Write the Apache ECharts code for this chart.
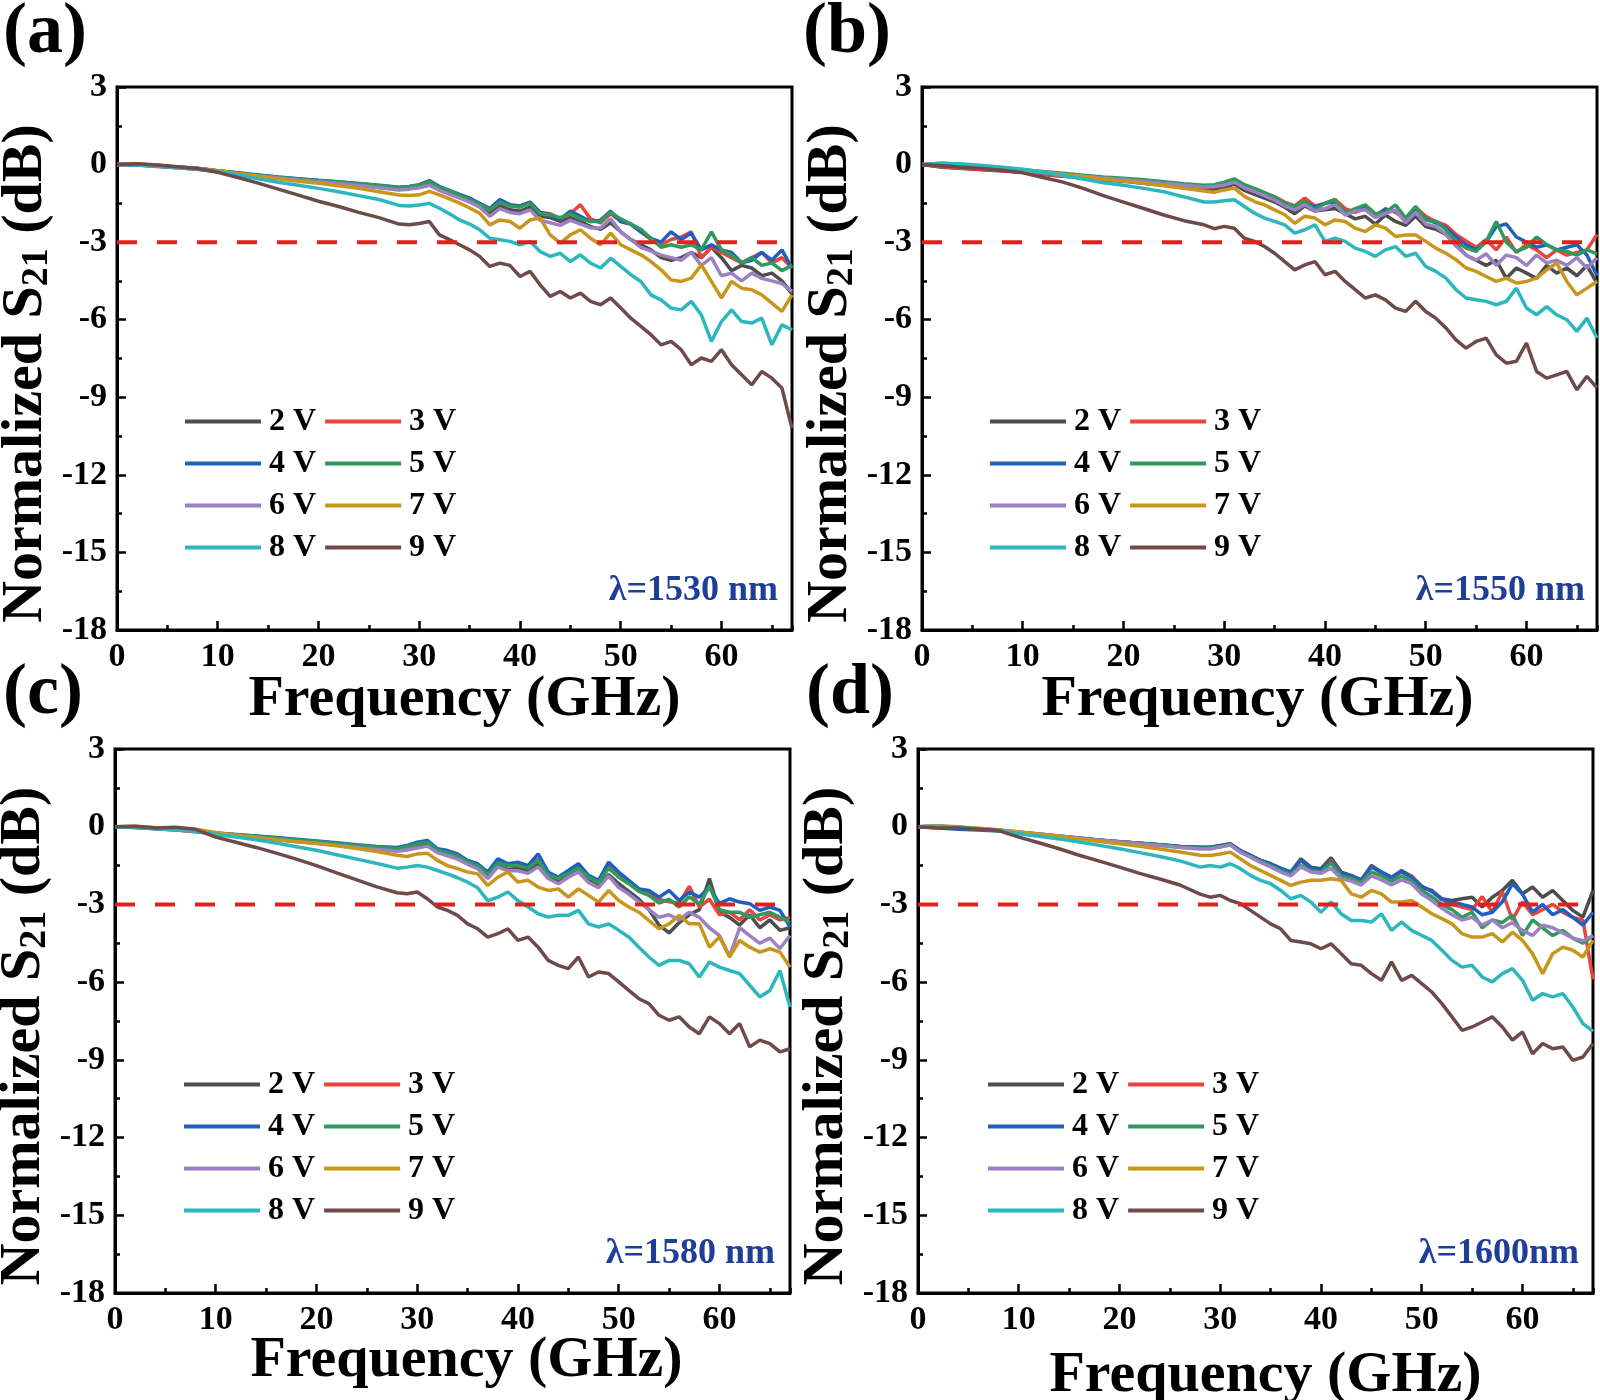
<!DOCTYPE html>
<html><head><meta charset="utf-8">
<script src="https://cdn.jsdelivr.net/npm/echarts@6/dist/echarts.min.js"></script>
<style>html,body{margin:0;padding:0;background:#fff}#chart{width:1600px;height:1400px}</style>
</head><body><div id="chart"></div>
<script>
// ---------------- data ----------------
const FREQ = [0,2,4,6,8,10,12,14,16,18,20,22,24,26,28,29,30,31,32,33,34,35,36,37,38,39,40,41,42,43,44,45,46,47,48,49,50,51,52,53,54,55,56,57,58,59,60,61,62,63,64,65,66,67];
const VOLTAGES = ['2 V','3 V','4 V','5 V','6 V','7 V','8 V','9 V'];
const Y_TICKS = [-18,-15,-12,-9,-6,-3,0,3];
const X_TICKS = [0,10,20,30,40,50,60];
const REF_DB = -3;
const LAMBDAS = ['λ=1530 nm','λ=1550 nm','λ=1580 nm','λ=1600nm'];
const TAGS = ['(a)','(b)','(c)','(d)'];

// (a) 1530 nm
const A_2V = [0,-0.02,-0.07,-0.12,-0.18,-0.27,-0.36,-0.45,-0.53,-0.6,-0.66,-0.72,-0.8,-0.88,-0.96,-0.92,-0.85,-0.72,-0.95,-1.1,-1.25,-1.4,-1.6,-1.9,-1.6,-1.75,-1.8,-1.65,-2.0,-2.05,-2.2,-2.05,-2.2,-2.4,-2.5,-2.25,-2.6,-2.9,-3.1,-3.3,-3.6,-3.7,-3.6,-3.4,-3.6,-3.2,-3.6,-4.1,-3.9,-4.0,-4.3,-4.2,-4.5,-5.0];
const A_3V = [0,0.0,-0.05,-0.1,-0.15,-0.25,-0.34,-0.42,-0.5,-0.57,-0.63,-0.69,-0.76,-0.84,-0.9,-0.88,-0.82,-0.68,-0.9,-1.05,-1.2,-1.3,-1.55,-1.75,-1.45,-1.6,-1.6,-1.5,-1.85,-1.9,-2.1,-1.9,-1.55,-2.1,-2.25,-1.9,-2.2,-2.3,-2.6,-2.9,-3.1,-2.9,-2.8,-2.6,-3.6,-3.2,-3.4,-3.6,-3.8,-3.6,-3.4,-3.8,-3.6,-4.0];
const A_4V = [0,0.01,-0.04,-0.09,-0.14,-0.24,-0.32,-0.4,-0.48,-0.55,-0.61,-0.66,-0.73,-0.8,-0.88,-0.85,-0.78,-0.62,-0.85,-1.0,-1.15,-1.3,-1.5,-1.7,-1.35,-1.55,-1.6,-1.45,-1.85,-1.95,-2.1,-1.8,-2.0,-2.2,-2.15,-1.8,-2.2,-2.3,-2.6,-2.85,-3.0,-2.6,-2.9,-2.65,-3.3,-3.1,-3.3,-3.4,-3.8,-3.7,-3.4,-3.7,-3.3,-4.0];
const A_5V = [0,0.01,-0.04,-0.09,-0.15,-0.24,-0.33,-0.41,-0.49,-0.56,-0.62,-0.67,-0.74,-0.81,-0.89,-0.85,-0.8,-0.65,-0.9,-1.0,-1.2,-1.35,-1.55,-1.75,-1.45,-1.6,-1.65,-1.5,-1.9,-1.95,-2.05,-1.9,-2.1,-2.2,-2.2,-1.85,-2.1,-2.3,-2.5,-2.85,-3.2,-3.1,-3.2,-3.1,-3.3,-2.6,-3.3,-3.5,-3.8,-3.6,-3.9,-3.8,-4.1,-3.9];
const A_6V = [0,-0.02,-0.06,-0.12,-0.17,-0.26,-0.35,-0.44,-0.52,-0.6,-0.66,-0.73,-0.81,-0.9,-0.98,-0.95,-0.9,-0.8,-1.0,-1.15,-1.3,-1.45,-1.65,-2.0,-1.7,-1.85,-1.9,-1.75,-2.15,-2.25,-2.35,-2.15,-2.3,-2.45,-2.45,-2.1,-2.6,-2.9,-3.2,-3.35,-3.5,-3.6,-3.7,-3.4,-3.9,-3.6,-4.3,-4.2,-4.5,-4.2,-4.4,-4.5,-4.6,-4.9];
const A_7V = [0,0.02,-0.03,-0.1,-0.15,-0.25,-0.35,-0.45,-0.55,-0.65,-0.72,-0.82,-0.92,-1.05,-1.18,-1.2,-1.17,-1.04,-1.17,-1.33,-1.49,-1.68,-1.88,-2.33,-2.14,-2.2,-2.46,-2.14,-2.07,-2.72,-3.04,-2.72,-2.52,-2.85,-3.1,-2.65,-3.1,-3.3,-3.49,-3.75,-4.07,-4.46,-4.52,-4.39,-3.88,-4.52,-5.16,-4.52,-4.78,-4.84,-5.04,-5.36,-5.68,-5.04];
const A_8V = [0,-0.02,-0.06,-0.12,-0.18,-0.28,-0.4,-0.55,-0.68,-0.8,-0.92,-1.05,-1.2,-1.35,-1.58,-1.6,-1.56,-1.5,-1.69,-1.9,-2.14,-2.3,-2.52,-2.85,-2.91,-2.97,-3.1,-2.97,-3.36,-3.55,-3.43,-3.75,-3.49,-3.81,-4.0,-3.62,-3.94,-4.26,-4.52,-5.04,-5.23,-5.55,-5.62,-5.29,-5.81,-6.84,-6.07,-5.62,-6.07,-6.13,-5.94,-6.97,-6.2,-6.39];
const A_9V = [0,0.03,-0.02,-0.08,-0.15,-0.3,-0.5,-0.72,-0.95,-1.18,-1.42,-1.62,-1.85,-2.05,-2.3,-2.33,-2.28,-2.2,-2.72,-2.9,-3.1,-3.3,-3.55,-3.94,-3.81,-3.9,-4.33,-4.13,-4.65,-5.1,-4.91,-5.16,-4.97,-5.29,-5.42,-5.16,-5.55,-5.94,-6.26,-6.58,-6.97,-6.84,-7.16,-7.74,-7.48,-7.61,-7.16,-7.74,-8.13,-8.52,-8.0,-8.26,-8.64,-10.2];

// (b) 1550 nm
const B_2V = [0,-0.1,-0.15,-0.2,-0.25,-0.3,-0.38,-0.45,-0.52,-0.6,-0.65,-0.72,-0.8,-0.9,-0.95,-0.95,-0.9,-0.75,-1.0,-1.15,-1.3,-1.45,-1.65,-1.9,-1.6,-1.8,-1.75,-1.7,-1.9,-2.1,-2.0,-2.3,-1.95,-2.2,-2.35,-2.0,-2.4,-2.5,-2.7,-3.1,-3.5,-3.7,-3.9,-3.7,-4.4,-4.0,-4.2,-4.4,-3.9,-4.2,-4.0,-4.3,-3.9,-4.6];
const B_3V = [0,-0.08,-0.14,-0.19,-0.24,-0.3,-0.37,-0.44,-0.5,-0.57,-0.62,-0.68,-0.75,-0.82,-0.88,-0.85,-0.75,-0.6,-0.82,-0.95,-1.1,-1.25,-1.45,-1.6,-1.3,-1.6,-1.5,-1.35,-1.7,-1.85,-1.7,-2.0,-1.7,-1.85,-2.1,-1.65,-2.0,-2.2,-2.35,-2.7,-2.95,-3.2,-2.9,-3.3,-2.8,-3.4,-3.1,-3.3,-3.6,-3.3,-3.5,-3.4,-3.3,-2.7];
const B_4V = [0,-0.03,-0.08,-0.13,-0.18,-0.25,-0.32,-0.39,-0.46,-0.53,-0.59,-0.65,-0.72,-0.79,-0.85,-0.82,-0.72,-0.58,-0.8,-0.95,-1.1,-1.3,-1.5,-1.65,-1.45,-1.65,-1.5,-1.45,-1.85,-1.75,-1.65,-1.95,-1.75,-1.8,-2.1,-1.7,-2.1,-2.25,-2.45,-2.8,-3.1,-3.3,-3.0,-2.4,-2.3,-2.8,-3.0,-3.2,-3.1,-3.3,-3.2,-3.1,-3.5,-4.3];
const B_5V = [0,0.05,0.0,-0.06,-0.12,-0.2,-0.27,-0.34,-0.41,-0.48,-0.53,-0.59,-0.66,-0.74,-0.8,-0.78,-0.68,-0.55,-0.78,-0.92,-1.08,-1.25,-1.5,-1.6,-1.43,-1.75,-1.5,-1.36,-1.88,-1.7,-1.56,-1.9,-1.85,-1.56,-2.07,-1.62,-2.14,-2.2,-2.52,-2.97,-3.23,-3.36,-2.97,-2.2,-3.0,-3.36,-3.2,-2.8,-3.1,-3.3,-3.35,-3.5,-3.3,-3.45];
const B_6V = [0,0.0,-0.05,-0.1,-0.16,-0.23,-0.3,-0.38,-0.45,-0.52,-0.58,-0.65,-0.73,-0.8,-0.87,-0.85,-0.8,-0.68,-0.9,-1.05,-1.2,-1.38,-1.6,-1.75,-1.55,-1.8,-1.7,-1.55,-1.95,-1.8,-1.75,-2.05,-1.9,-1.75,-2.25,-1.85,-2.3,-2.4,-2.7,-3.15,-3.5,-3.7,-3.45,-3.9,-3.5,-3.6,-3.9,-3.5,-3.8,-3.7,-3.9,-3.6,-4.0,-3.6];
const B_7V = [0,0.03,-0.02,-0.08,-0.14,-0.22,-0.3,-0.38,-0.47,-0.56,-0.64,-0.72,-0.82,-0.92,-1.02,-1.07,-0.98,-0.91,-1.23,-1.43,-1.56,-1.75,-1.94,-2.27,-2.0,-2.07,-2.33,-2.14,-2.2,-2.46,-2.59,-2.33,-2.46,-2.78,-2.72,-2.72,-2.97,-3.23,-3.43,-3.68,-4.0,-4.13,-4.33,-4.52,-4.39,-4.58,-4.52,-4.39,-4.07,-3.81,-4.52,-5.04,-4.78,-4.52];
const B_8V = [0,0.05,0.02,-0.04,-0.1,-0.18,-0.3,-0.42,-0.56,-0.7,-0.8,-0.92,-1.05,-1.25,-1.45,-1.45,-1.4,-1.36,-1.62,-1.88,-2.07,-2.2,-2.33,-2.65,-2.52,-2.33,-2.97,-2.85,-2.97,-3.23,-3.36,-3.55,-3.3,-3.17,-3.55,-3.43,-3.94,-4.13,-4.39,-4.84,-5.16,-5.23,-5.29,-5.42,-5.29,-4.78,-5.55,-5.81,-5.49,-5.81,-6.0,-6.45,-5.94,-6.71];
const B_9V = [0,-0.05,-0.1,-0.15,-0.22,-0.32,-0.5,-0.68,-0.92,-1.2,-1.45,-1.7,-1.95,-2.17,-2.33,-2.48,-2.39,-2.46,-2.85,-2.97,-3.17,-3.43,-3.75,-4.07,-3.88,-3.75,-4.26,-4.13,-4.52,-4.84,-5.16,-5.04,-5.23,-5.55,-5.68,-5.29,-5.68,-5.94,-6.32,-6.78,-7.1,-6.84,-6.71,-7.36,-7.68,-7.61,-6.9,-8.0,-8.26,-8.13,-8.0,-8.71,-8.19,-8.64];

// (c) 1580 nm
const C_2V = [0,-0.03,-0.08,-0.13,-0.19,-0.27,-0.34,-0.41,-0.48,-0.56,-0.63,-0.71,-0.79,-0.86,-0.92,-0.88,-0.78,-0.7,-0.98,-1.08,-1.2,-1.42,-1.6,-1.95,-1.5,-1.65,-1.6,-1.7,-1.45,-1.95,-2.1,-1.9,-1.7,-2.05,-2.3,-1.85,-2.2,-2.5,-2.8,-3.2,-3.8,-4.1,-3.7,-3.4,-3.2,-2.0,-3.3,-3.5,-3.8,-3.4,-3.9,-3.6,-4.0,-3.9];
const C_3V = [0,-0.01,-0.06,-0.1,-0.17,-0.25,-0.31,-0.38,-0.45,-0.52,-0.58,-0.66,-0.73,-0.8,-0.86,-0.78,-0.68,-0.58,-0.88,-0.98,-1.12,-1.33,-1.5,-1.8,-1.35,-1.5,-1.45,-1.55,-1.25,-1.8,-1.95,-1.75,-1.5,-1.9,-2.1,-1.5,-1.9,-2.15,-2.45,-2.6,-2.8,-2.9,-2.95,-2.3,-3.1,-2.8,-3.4,-3.3,-3.6,-3.2,-3.6,-3.4,-3.6,-3.5];
const C_4V = [0,-0.02,-0.06,-0.1,-0.16,-0.24,-0.3,-0.36,-0.42,-0.48,-0.55,-0.62,-0.7,-0.76,-0.8,-0.72,-0.6,-0.53,-0.85,-0.92,-1.05,-1.3,-1.43,-1.75,-1.24,-1.43,-1.37,-1.5,-1.05,-1.75,-1.95,-1.69,-1.43,-1.88,-2.07,-1.37,-1.75,-2.07,-2.4,-2.46,-2.72,-2.46,-2.85,-2.52,-2.72,-2.33,-2.97,-2.78,-2.91,-2.97,-3.23,-3.1,-3.23,-3.87];
const C_5V = [0,0.0,-0.05,-0.1,-0.16,-0.25,-0.31,-0.37,-0.44,-0.5,-0.57,-0.64,-0.72,-0.79,-0.84,-0.76,-0.66,-0.6,-0.9,-1.0,-1.12,-1.35,-1.5,-1.85,-1.4,-1.5,-1.5,-1.6,-1.3,-1.85,-2.0,-1.8,-1.6,-1.95,-2.15,-1.6,-1.95,-2.2,-2.5,-2.65,-2.95,-2.8,-3.1,-2.7,-3.0,-2.3,-3.2,-3.3,-3.3,-3.5,-3.4,-3.3,-3.5,-3.7];
const C_6V = [0,-0.02,-0.07,-0.12,-0.18,-0.27,-0.34,-0.41,-0.49,-0.57,-0.64,-0.72,-0.8,-0.88,-0.95,-0.9,-0.82,-0.75,-1.0,-1.12,-1.25,-1.45,-1.62,-2.0,-1.55,-1.7,-1.7,-1.8,-1.55,-2.0,-2.2,-1.95,-1.75,-2.15,-2.35,-1.9,-2.35,-2.6,-2.9,-3.2,-3.5,-3.4,-3.6,-3.3,-3.5,-3.9,-4.2,-5.0,-3.9,-4.2,-4.5,-4.3,-4.7,-4.2];
const C_7V = [0,0.02,-0.03,-0.05,-0.1,-0.22,-0.33,-0.42,-0.5,-0.58,-0.65,-0.74,-0.84,-0.96,-1.1,-1.15,-1.05,-1.02,-1.3,-1.5,-1.62,-1.75,-1.82,-2.27,-1.95,-1.75,-2.14,-2.07,-2.33,-2.46,-2.4,-2.72,-2.4,-2.65,-2.91,-2.46,-2.85,-3.1,-3.3,-3.62,-3.94,-3.75,-3.42,-3.75,-3.75,-4.65,-4.26,-5.03,-4.39,-4.65,-4.84,-4.71,-4.84,-5.42];
const C_8V = [0,-0.03,-0.08,-0.12,-0.18,-0.3,-0.4,-0.5,-0.63,-0.77,-0.91,-1.08,-1.25,-1.42,-1.6,-1.56,-1.5,-1.56,-1.69,-1.82,-1.97,-2.14,-2.36,-2.85,-2.72,-2.52,-2.85,-3.1,-3.36,-3.49,-3.42,-3.42,-3.23,-3.75,-3.87,-3.75,-4.0,-4.26,-4.65,-5.03,-5.35,-5.16,-5.16,-5.29,-5.8,-5.22,-5.42,-5.55,-5.67,-6.12,-6.57,-6.32,-5.55,-6.96];
const C_9V = [0,0.02,-0.05,-0.02,-0.1,-0.4,-0.6,-0.8,-1.02,-1.25,-1.5,-1.78,-2.05,-2.32,-2.55,-2.59,-2.52,-2.78,-3.1,-3.23,-3.42,-3.75,-3.94,-4.26,-4.13,-3.94,-4.39,-4.26,-4.65,-5.16,-5.35,-5.48,-5.03,-5.8,-5.61,-5.67,-5.99,-6.32,-6.64,-6.83,-7.28,-7.47,-7.34,-7.73,-7.99,-7.34,-7.6,-7.99,-7.6,-8.5,-8.24,-8.37,-8.69,-8.57];

// (d) 1600 nm
const D_2V = [0,0.02,-0.03,-0.08,-0.14,-0.21,-0.28,-0.36,-0.44,-0.52,-0.58,-0.64,-0.7,-0.76,-0.79,-0.79,-0.72,-0.66,-0.92,-1.11,-1.3,-1.43,-1.62,-1.75,-1.24,-1.56,-1.62,-1.2,-1.75,-1.88,-2.07,-1.5,-1.75,-1.95,-1.75,-1.95,-2.33,-2.46,-2.78,-2.85,-2.78,-2.72,-3.1,-2.72,-2.46,-2.07,-2.59,-2.33,-2.72,-2.46,-2.85,-3.23,-3.49,-2.46];
const D_3V = [0,0.0,-0.05,-0.1,-0.16,-0.23,-0.3,-0.38,-0.45,-0.52,-0.58,-0.64,-0.7,-0.76,-0.8,-0.8,-0.74,-0.68,-0.95,-1.12,-1.3,-1.45,-1.65,-1.8,-1.3,-1.6,-1.7,-1.3,-1.8,-1.9,-2.05,-1.55,-1.8,-2.0,-1.7,-1.9,-2.3,-2.5,-2.8,-3.0,-3.1,-3.2,-2.7,-3.3,-2.5,-3.6,-2.9,-3.4,-3.2,-3.0,-3.3,-3.5,-3.6,-5.9];
const D_4V = [0,-0.05,-0.1,-0.13,-0.17,-0.24,-0.31,-0.38,-0.45,-0.52,-0.58,-0.64,-0.7,-0.76,-0.8,-0.8,-0.73,-0.67,-0.93,-1.1,-1.3,-1.43,-1.6,-1.75,-1.3,-1.6,-1.65,-1.35,-1.8,-1.9,-2.05,-1.55,-1.75,-1.95,-1.7,-1.95,-2.3,-2.5,-2.8,-2.9,-3.0,-3.1,-3.4,-3.3,-2.9,-2.2,-2.6,-3.3,-3.0,-3.4,-3.2,-3.5,-3.8,-3.3];
const D_5V = [0,0.0,-0.05,-0.1,-0.15,-0.22,-0.29,-0.37,-0.44,-0.51,-0.58,-0.64,-0.71,-0.78,-0.83,-0.83,-0.76,-0.7,-0.98,-1.15,-1.33,-1.5,-1.7,-1.85,-1.5,-1.7,-1.75,-1.4,-1.9,-2.0,-2.15,-1.75,-1.9,-2.1,-1.9,-2.1,-2.45,-2.7,-3.0,-3.2,-3.5,-3.3,-3.9,-3.6,-3.7,-3.4,-4.2,-3.6,-3.9,-4.2,-4.0,-4.3,-4.5,-4.2];
const D_6V = [0,0.03,-0.02,-0.07,-0.13,-0.2,-0.28,-0.36,-0.44,-0.52,-0.59,-0.66,-0.73,-0.8,-0.86,-0.86,-0.78,-0.7,-0.98,-1.18,-1.38,-1.55,-1.75,-1.9,-1.55,-1.75,-1.8,-1.6,-2.0,-2.1,-2.25,-1.9,-2.05,-2.25,-2.05,-2.2,-2.6,-2.85,-3.15,-3.4,-3.6,-3.5,-3.8,-3.6,-3.9,-3.7,-4.0,-4.2,-3.8,-3.9,-4.1,-4.3,-4.4,-4.2];
const D_7V = [0,0.04,0.0,-0.06,-0.12,-0.2,-0.28,-0.37,-0.47,-0.57,-0.66,-0.75,-0.86,-0.98,-1.1,-1.11,-1.05,-0.98,-1.24,-1.5,-1.69,-1.88,-2.07,-2.27,-2.14,-2.07,-2.07,-2.01,-2.07,-2.59,-2.72,-2.46,-2.59,-2.91,-2.91,-2.85,-3.1,-3.36,-3.55,-3.75,-4.13,-4.26,-4.26,-4.13,-4.45,-4.07,-4.39,-4.9,-5.67,-4.9,-4.65,-4.77,-5.03,-4.39];
const D_8V = [0,0.02,-0.03,-0.08,-0.14,-0.27,-0.37,-0.47,-0.59,-0.72,-0.85,-1.0,-1.15,-1.32,-1.56,-1.5,-1.56,-1.43,-1.62,-1.88,-2.07,-2.2,-2.46,-2.78,-2.65,-2.91,-3.3,-2.91,-3.36,-3.62,-3.62,-3.68,-3.36,-4.0,-3.68,-4.0,-4.2,-4.39,-4.77,-5.16,-5.42,-5.35,-5.8,-5.99,-5.67,-5.48,-5.93,-6.7,-6.44,-6.57,-6.44,-6.96,-7.6,-7.9];
const D_9V = [0,-0.05,-0.05,-0.1,-0.15,-0.4,-0.62,-0.85,-1.1,-1.33,-1.56,-1.8,-2.02,-2.25,-2.6,-2.72,-2.65,-2.85,-2.97,-3.23,-3.49,-3.75,-3.94,-4.39,-4.45,-4.52,-4.71,-4.52,-4.9,-5.29,-5.35,-5.67,-5.93,-5.22,-5.93,-5.74,-6.06,-6.38,-6.83,-7.34,-7.86,-7.73,-7.54,-7.34,-7.73,-8.24,-7.92,-8.76,-8.37,-8.57,-8.5,-9.02,-8.89,-8.37];

const PANEL_DATA = [
  [A_2V,A_3V,A_4V,A_5V,A_6V,A_7V,A_8V,A_9V],
  [B_2V,B_3V,B_4V,B_5V,B_6V,B_7V,B_8V,B_9V],
  [C_2V,C_3V,C_4V,C_5V,C_6V,C_7V,C_8V,C_9V],
  [D_2V,D_3V,D_4V,D_5V,D_6V,D_7V,D_8V,D_9V]
];

// ---------------- style / layout ----------------
const FONT = "'Liberation Serif','Times New Roman',serif";
const COLORS = ['#4d4d4d','#e8453c','#1f5fbf','#2f9a5c','#9b80c2','#c8961c','#2cb7bf','#6f4a4a'];
const LAYOUT = [
  {left:117, top:87,  w:675, h:543, tagX:3,   tagY:33,  lamX:778,  lamY:591,  legX:185, legY:405,  xGap:40, xShift:10},
  {left:922, top:87,  w:675, h:543, tagX:803, tagY:33,  lamX:1585, lamY:591,  legX:990, legY:405,  xGap:40, xShift:-2},
  {left:115, top:749, w:675, h:544, tagX:3,   tagY:694, lamX:775,  lamY:1254, legX:184, legY:1068, xGap:38, xShift:14},
  {left:918, top:749, w:675, h:544, tagX:806, tagY:694, lamX:1579, lamY:1254, legX:988, legY:1068, xGap:53, xShift:10}
];

const option = {
  animation:false, backgroundColor:'#ffffff',
  grid:[], xAxis:[], yAxis:[], legend:[], series:[], graphic:[]
};

LAYOUT.forEach((L, p) => {
  option.grid.push({left:L.left, top:L.top, width:L.w, height:L.h, show:true,
    borderColor:'#000', borderWidth:3, backgroundColor:'transparent',
    containLabel:false, outerBoundsMode:'none'});
  const xPad = L.xShift >= 0 ? [0,0,0,2*L.xShift] : [0,-2*L.xShift,0,0];
  option.xAxis.push({
    gridIndex:p, type:'value', min:0, max:67, interval:10, position:'bottom',
    splitLine:{show:false},
    axisLine:{show:true, onZero:false, lineStyle:{color:'#000', width:3}},
    axisTick:{show:true, inside:true, length:9, lineStyle:{color:'#000', width:2.5}},
    axisLabel:{show:true, showMaxLabel:false, margin:10, color:'#000', fontFamily:FONT, fontWeight:'bold', fontSize:34,
      formatter: v => (X_TICKS.indexOf(v) >= 0 ? String(v) : '')},
    name:'Frequency (GHz)', nameLocation:'middle', nameGap:L.xGap, nameMoveOverlap:false,
    nameTextStyle:{fontFamily:FONT, fontWeight:'bold', fontSize:58, color:'#000', lineHeight:60, padding:xPad}
  });
  option.xAxis.push({
    gridIndex:p, type:'value', min:0, max:67, interval:5, position:'bottom',
    splitLine:{show:false},
    axisLine:{show:false, onZero:false},
    axisTick:{show:true, inside:true, length:5, lineStyle:{color:'#000', width:2.5}},
    axisLabel:{show:false}
  });
  option.yAxis.push({
    gridIndex:p, type:'value', min:Y_TICKS[0], max:Y_TICKS[Y_TICKS.length-1], interval:3, position:'left',
    splitLine:{show:false}, minorSplitLine:{show:false},
    axisLine:{show:true, onZero:false, lineStyle:{color:'#000', width:3}},
    axisTick:{show:true, inside:true, length:9, lineStyle:{color:'#000', width:2.5}},
    minorTick:{show:true, splitNumber:2, length:5, lineStyle:{color:'#000', width:2.5}},
    axisLabel:{margin:10, color:'#000', fontFamily:FONT, fontWeight:'bold', fontSize:34},
    name:'{n|Normalized S}{s|21}{n| (dB)}', nameLocation:'middle', nameGap:61, nameMoveOverlap:false,
    nameTextStyle:{padding:[0,30,0,0], rich:{
      n:{fontFamily:FONT, fontWeight:'bold', fontSize:58, color:'#000', lineHeight:60, verticalAlign:'middle'},
      s:{fontFamily:FONT, fontWeight:'bold', fontSize:38, color:'#000', lineHeight:36, verticalAlign:'bottom'}
    }}
  });
  option.legend.push({
    left:L.legX, top:L.legY, width:285, orient:'horizontal', padding:0, itemGap:9,
    itemWidth:76, itemHeight:4, icon:'rect', selectedMode:false,
    data:VOLTAGES.slice(),
    textStyle:{fontFamily:FONT, fontWeight:'bold', fontSize:32, color:'#000', lineHeight:33, padding:[0,0,0,3]}
  });
  PANEL_DATA[p].forEach((vals, k) => {
    option.series.push({
      name:VOLTAGES[k], type:'line', xAxisIndex:2*p, yAxisIndex:p,
      data:FREQ.map((f,i) => [f, vals[i]]),
      showSymbol:false, symbol:'none', smooth:false, clip:true,
      lineStyle:{color:COLORS[k], width:3.5}, itemStyle:{color:COLORS[k]},
      emphasis:{disabled:true}, z:2
    });
  });
  option.series.push({
    name:'-3 dB', type:'line', xAxisIndex:2*p, yAxisIndex:p,
    data:[[0, REF_DB],[67, REF_DB]], showSymbol:false, symbol:'none',
    lineStyle:{color:'#e3211c', width:4, type:[20,20]}, emphasis:{disabled:true}, z:4
  });
  option.graphic.push({
    type:'text', x:L.tagX, y:L.tagY, silent:true,
    style:{text:TAGS[p], fill:'#000', fontFamily:FONT, fontWeight:'bold', fontSize:72,
      align:'left', textAlign:'left', verticalAlign:'middle', textVerticalAlign:'middle'}
  });
  option.graphic.push({
    type:'text', x:L.lamX, y:L.lamY, silent:true,
    style:{text:LAMBDAS[p], fill:'#1f3f96', fontFamily:FONT, fontWeight:'bold', fontSize:36,
      align:'right', textAlign:'right', verticalAlign:'middle', textVerticalAlign:'middle'}
  });
});

const chart = echarts.init(document.getElementById('chart'), null, {renderer:'canvas', width:1600, height:1400});
chart.setOption(option);
</script>
</body></html>
